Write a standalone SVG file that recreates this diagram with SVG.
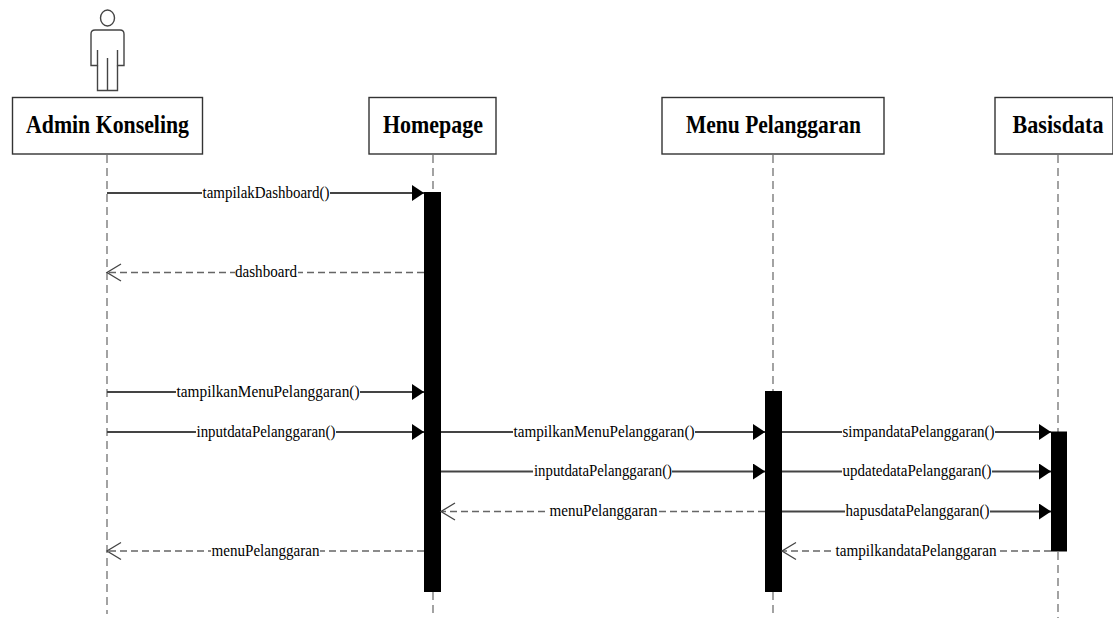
<svg xmlns="http://www.w3.org/2000/svg" width="1113" height="618" viewBox="0 0 1113 618">
<style>
text{font-family:"Liberation Serif","Times New Roman",serif;fill:#000}
.t{font-size:26px;font-weight:bold;text-anchor:middle;stroke:none}
.m{font-size:16px;text-anchor:middle}
.box{fill:#fff;stroke:#333;stroke-width:1.4}
.life{stroke:#666;stroke-width:1.2;stroke-dasharray:8 5;fill:none}
.sync{stroke:#444;stroke-width:2.2;fill:none}
.ret{stroke:#666;stroke-width:1.4;stroke-dasharray:7 4;fill:none}
.open{stroke:#444;stroke-width:1.3;fill:none}
.lb{fill:#fff}
</style>
<defs>
<marker id="solid" markerUnits="userSpaceOnUse" markerWidth="13" markerHeight="16" refX="12" refY="8" orient="auto"><path d="M0 0L12 8L0 16Z" fill="#000"/></marker>
</defs>
<g id="lifelines">
<path class="life" d="M107 155V614"/>
<path class="life" d="M433 155V192M433 592V616"/>
<path class="life" d="M773 155V391M773 592V614"/>
<path class="life" d="M1058 155V432M1058 552V618"/>
</g>
<g id="actor" fill="none" stroke="#444" stroke-width="1.4">
<ellipse cx="107.500" cy="18" rx="7" ry="8"/>
<path d="M97.500 50V65.500H91V34Q91 30 95 30H120Q124 30 124 34V65.500H117.500V50"/>
<path d="M97.500 65.500V90.500H117.500V65.500M107.500 58V90.500"/>
</g>
<g id="node-admin"><rect class="box" x="12.500" y="97.500" width="190" height="56.500"/><text class="t" x="107.500" y="133" textLength="163" lengthAdjust="spacingAndGlyphs">Admin Konseling</text></g>
<g id="node-homepage"><rect class="box" x="369" y="97.500" width="127" height="56.500"/><text class="t" x="433" y="133" textLength="100" lengthAdjust="spacingAndGlyphs">Homepage</text></g>
<g id="node-menu"><rect class="box" x="662" y="97.500" width="222" height="56.500"/><text class="t" x="773.500" y="133" textLength="175" lengthAdjust="spacingAndGlyphs">Menu Pelanggaran</text></g>
<g id="node-basisdata"><rect class="box" x="995" y="97.500" width="118" height="56.500"/><text class="t" x="1058" y="133" textLength="91" lengthAdjust="spacingAndGlyphs">Basisdata</text></g>
<g id="activations">
<rect id="act-homepage" x="424" y="192" width="17" height="400"/>
<rect id="act-menu" x="765" y="391" width="17" height="201"/>
<rect id="act-basisdata" x="1051" y="431.500" width="16" height="120"/>
</g>
<g id="connectors">
<path class="sync" marker-end="url(#solid)" d="M107 193H424"/>
<path class="ret" d="M424 272.500H108"/><path class="open" d="M121 264L107 272.500L121 281"/>
<path class="sync" marker-end="url(#solid)" d="M107 392H424"/>
<path class="sync" marker-end="url(#solid)" d="M107 432H424"/>
<path class="sync" marker-end="url(#solid)" d="M441 432H765"/>
<path class="sync" marker-end="url(#solid)" d="M441 471.500H765"/>
<path class="ret" d="M765 511.500H442"/><path class="open" d="M455 503L441 511.500L455 520"/>
<path class="ret" d="M424 551H108"/><path class="open" d="M121 542.500L107 551L121 559.500"/>
<path class="sync" marker-end="url(#solid)" d="M782 432H1051"/>
<path class="sync" marker-end="url(#solid)" d="M782 471.500H1051"/>
<path class="sync" marker-end="url(#solid)" d="M782 511.500H1051"/>
<path class="ret" d="M1051 551H783"/><path class="open" d="M796 542.500L782 551L796 559.500"/>
</g>
<g id="labels">
<rect class="lb" x="202" y="184" width="128" height="18"/><text class="m" x="266" y="198" textLength="127" lengthAdjust="spacingAndGlyphs">tampilakDashboard()</text>
<rect class="lb" x="235" y="263" width="63" height="18"/><text class="m" x="266" y="277" textLength="62" lengthAdjust="spacingAndGlyphs">dashboard</text>
<rect class="lb" x="176" y="383" width="184" height="18"/><text class="m" x="268" y="397" textLength="183" lengthAdjust="spacingAndGlyphs">tampilkanMenuPelanggaran()</text>
<rect class="lb" x="196" y="423" width="140" height="18"/><text class="m" x="266" y="437" textLength="139" lengthAdjust="spacingAndGlyphs">inputdataPelanggaran()</text>
<rect class="lb" x="513" y="423" width="182" height="18"/><text class="m" x="604" y="437" textLength="181" lengthAdjust="spacingAndGlyphs">tampilkanMenuPelanggaran()</text>
<rect class="lb" x="533" y="462" width="139" height="18"/><text class="m" x="603" y="476" textLength="138" lengthAdjust="spacingAndGlyphs">inputdataPelanggaran()</text>
<rect class="lb" x="549" y="502" width="109" height="18"/><text class="m" x="603.500" y="516" textLength="108" lengthAdjust="spacingAndGlyphs">menuPelanggaran</text>
<rect class="lb" x="211" y="542" width="109" height="18"/><text class="m" x="265.500" y="556" textLength="108" lengthAdjust="spacingAndGlyphs">menuPelanggaran</text>
<rect class="lb" x="842" y="423" width="153" height="18"/><text class="m" x="918.500" y="437" textLength="152" lengthAdjust="spacingAndGlyphs">simpandataPelanggaran()</text>
<rect class="lb" x="842" y="462" width="150" height="18"/><text class="m" x="917" y="476" textLength="149" lengthAdjust="spacingAndGlyphs">updatedataPelanggaran()</text>
<rect class="lb" x="845" y="502" width="145" height="18"/><text class="m" x="917.500" y="516" textLength="144" lengthAdjust="spacingAndGlyphs">hapusdataPelanggaran()</text>
<rect class="lb" x="835" y="542" width="162" height="18"/><text class="m" x="916" y="556" textLength="161" lengthAdjust="spacingAndGlyphs">tampilkandataPelanggaran</text>
</g>
</svg>
